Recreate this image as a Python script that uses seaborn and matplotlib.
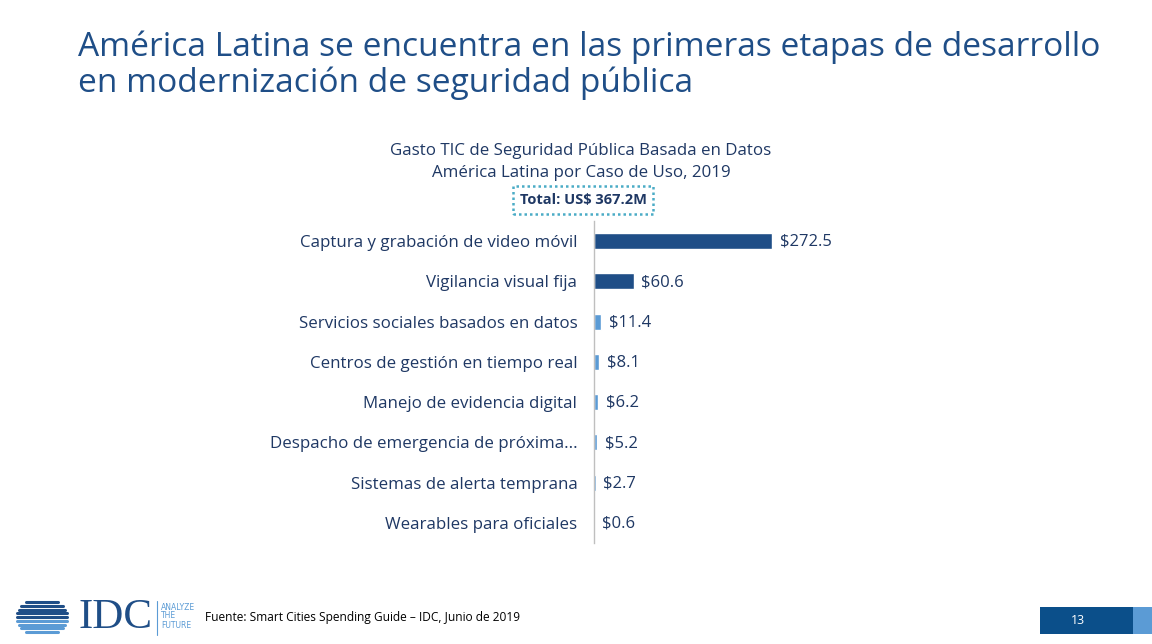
import matplotlib
matplotlib.use("Agg")
import matplotlib.pyplot as plt
import seaborn as sns
import pandas as pd
import numpy as np
from matplotlib.patches import Rectangle

categories = [
    "Captura y grabación de video móvil",
    "Vigilancia visual fija",
    "Servicios sociales basados en datos",
    "Centros de gestión en tiempo real",
    "Manejo de evidencia digital",
    "Despacho de emergencia de próxima...",
    "Sistemas de alerta temprana",
    "Wearables para oficiales",
]
values = [272.5, 60.6, 11.4, 8.1, 6.2, 5.2, 2.7, 0.6]
value_labels = ["$272.5", "$60.6", "$11.4", "$8.1", "$6.2", "$5.2", "$2.7", "$0.6"]
groups = ["top", "top", "rest", "rest", "rest", "rest", "rest", "rest"]

title_lines = ["América Latina se encuentra en las primeras etapas de desarrollo",
               "en modernización de seguridad pública"]
subtitle_lines = ["Gasto TIC de Seguridad Pública Basada en Datos",
                  "América Latina por Caso de Uso, 2019"]
total_text = "Total: US$ 367.2M"
source_text = "Fuente: Smart Cities Spending Guide – IDC, Junio de 2019"
page_text = "13"

DARK = "#1F4E87"
LIGHT = "#5B9BD5"
TEXT = "#1F3864"

sns.set_theme(style="white")
plt.rcParams["font.family"] = ["Open Sans", "DejaVu Sans"]

W, H = 1152, 644
fig = plt.figure(figsize=(W / 100, H / 100), dpi=100)

def fx(px):
    return px / W

def fy(py):
    return 1 - py / H

OS = ["Open Sans", "DejaVu Sans"]

df = pd.DataFrame({"cat": categories, "val": values, "grp": groups})

ax_left, ax_right = 594, 900
ax = fig.add_axes([fx(ax_left), fy(543), fx(ax_right - ax_left), fy(221) - fy(543)])
sns.barplot(data=df, x="val", y="cat", hue="grp", palette={"top": DARK, "rest": LIGHT},
            orient="h", width=0.4, dodge=False, legend=False, ax=ax, saturation=1)
scale_max = 272.5 * (ax_right - ax_left) / (772 - 594)
ax.set_xlim(0, scale_max)
ax.set_ylim(7.5, -0.5)
ax.set_xlabel("")
ax.set_ylabel("")
ax.set_xticks([])
for s in ["top", "right", "bottom"]:
    ax.spines[s].set_visible(False)
ax.spines["left"].set_color("#BFBFBF")
ax.spines["left"].set_linewidth(1.0)
ax.tick_params(axis="y", length=0, pad=12, labelsize=12.2, labelcolor=TEXT)
for t in ax.get_yticklabels():
    t.set_family(OS)
for i, (v, lab) in enumerate(zip(values, value_labels)):
    ax.annotate(lab, xy=(v, i), xytext=(5.5, -0.5), textcoords="offset points",
                va="center", ha="left", fontsize=12, color=TEXT, family=OS)

# Title
for line, base in zip(title_lines, [56, 92]):
    fig.text(fx(78), fy(base), line, fontsize=24.1, color=DARK, ha="left",
             va="baseline", family=OS)

# Subtitle
for line, yc in zip(subtitle_lines, [151, 173]):
    fig.text(fx(581), fy(yc), line, fontsize=12.2, color=TEXT, ha="center",
             va="center", family=OS)

# Total box
fig.text(fx(583), fy(200), total_text, fontsize=10.5, color=TEXT, ha="center",
         va="center", fontweight="bold", family=OS,
         bbox=dict(boxstyle="square,pad=0.45", fc="white", ec="#4BACC6",
                   ls=(0, (1, 1.2)), lw=1.8))

# Footer: IDC logo approximation
cx, cy, r = 42, 617, 17
for k, yy in enumerate(np.linspace(cy - r + 2, cy + r - 2, 9)):
    half = np.sqrt(max(r ** 2 - (yy - cy) ** 2, 0))
    col = DARK if k < 5 else LIGHT
    fig.add_artist(plt.Line2D([fx(cx - half - 8), fx(cx + half + 8)], [fy(yy), fy(yy)],
                              color=col, lw=2.2, transform=fig.transFigure))
fig.text(fx(79), fy(618), "IDC", fontsize=31, color=DARK, family="Liberation Serif",
         ha="left", va="center")
fig.add_artist(plt.Line2D([fx(157), fx(157)], [fy(601), fy(635)], color=LIGHT, lw=0.8,
                          transform=fig.transFigure))
fig.text(fx(161), fy(616), "ANALYZE\nTHE\nFUTURE", fontsize=5.5, color=LIGHT, ha="left",
         va="center", linespacing=1.0, family="DejaVu Sans Condensed" )
fig.text(fx(205), fy(617), source_text, fontsize=8.6, color="black", ha="left",
         va="center", family=OS)

# Page number box
fig.add_artist(Rectangle((fx(1040), fy(634)), fx(1133 - 1040), fy(607) - fy(634),
                         transform=fig.transFigure, color="#0B4F8A", lw=0))
fig.add_artist(Rectangle((fx(1133), fy(634)), fx(1152 - 1133), fy(607) - fy(634),
                         transform=fig.transFigure, color=LIGHT, lw=0))
fig.text(fx(1078), fy(620.5), page_text, fontsize=9, color="white", ha="center", va="center")

fig.savefig("out.png", dpi=100)
